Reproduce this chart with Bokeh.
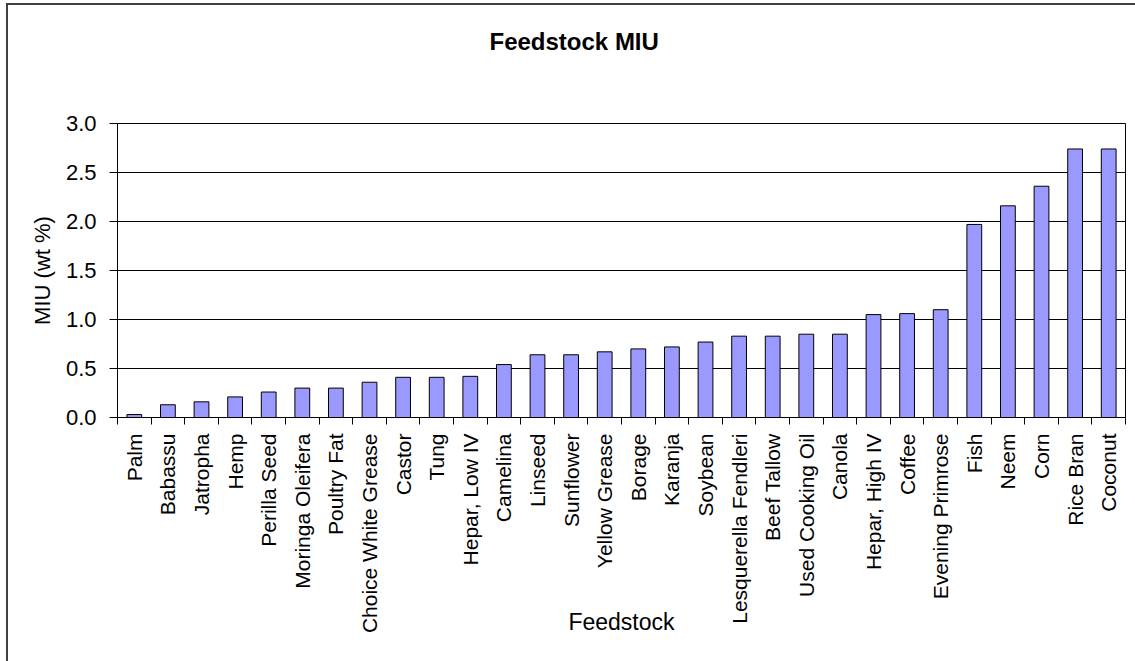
import math
from bokeh.plotting import figure
from bokeh.models import (ColumnDataSource, FixedTicker, CustomJSTickFormatter, Range1d,
                          NumeralTickFormatter)
from bokeh.embed import file_html
from bokeh.resources import INLINE

# ---- data ----
feedstocks = ["Palm", "Babassu", "Jatropha", "Hemp", "Perilla Seed", "Moringa Oleifera",
              "Poultry Fat", "Choice White Grease", "Castor", "Tung", "Hepar, Low IV",
              "Camelina", "Linseed", "Sunflower", "Yellow Grease", "Borage", "Karanja",
              "Soybean", "Lesquerella Fendleri", "Beef Tallow", "Used Cooking Oil", "Canola",
              "Hepar, High IV", "Coffee", "Evening Primrose", "Fish", "Neem", "Corn",
              "Rice Bran", "Coconut"]
miu = [0.03, 0.13, 0.16, 0.21, 0.26, 0.30, 0.30, 0.36, 0.41, 0.41, 0.42,
       0.54, 0.64, 0.64, 0.67, 0.70, 0.72, 0.77, 0.83, 0.83, 0.85, 0.85,
       1.05, 1.06, 1.10, 1.97, 2.16, 2.36, 2.74, 2.74]
y_ticks = [0.0, 0.5, 1.0, 1.5, 2.0, 2.5, 3.0]
title_text = "Feedstock MIU"
x_title = "Feedstock"
y_title = "MIU (wt %)"

n = len(feedstocks)
centers = [i + 0.5 for i in range(n)]
bounds = [float(i) for i in range(n + 1)]
src = ColumnDataSource(dict(x=centers, top=miu, name=feedstocks))

SHIFT = 44                      # canvas is pulled up by this many px
W, H = 1135, 661 + SHIFT - 2
FONT = "Liberation Sans"

p = figure(width=W, height=H, output_backend="svg", toolbar_location=None,
           x_range=Range1d(0, n), y_range=Range1d(0, 3.0),
           min_border_left=117, min_border_right=10, min_border_top=122 + SHIFT,
           min_border_bottom=242)
p.margin = (-SHIFT, 0, 0, 0)

p.vbar(x="x", top="top", width=0.44, bottom=0, source=src,
       fill_color="#9999FF", line_color="black", line_width=1)

# frame
p.outline_line_color = "black"
p.outline_line_width = 1
p.background_fill_color = "white"
p.border_fill_color = "white"

# grids
p.xgrid.visible = False
p.ygrid.grid_line_color = "black"
p.ygrid.grid_line_width = 1
p.ygrid.ticker = FixedTicker(ticks=y_ticks)

# y axis
ya = p.yaxis[0]
ya.ticker = FixedTicker(ticks=y_ticks)
ya.formatter = NumeralTickFormatter(format="0.0")
ya.major_label_text_font = FONT
ya.major_label_text_font_size = "22px"
ya.major_label_text_color = "black"
ya.major_tick_out = 8
ya.major_tick_in = 0
ya.minor_tick_out = 0
ya.minor_tick_in = 0
ya.major_label_standoff = 13
ya.axis_line_color = "black"
ya.major_tick_line_color = "black"
ya.axis_label = y_title
ya.axis_label_text_font = FONT
ya.axis_label_text_font_size = "22px"
ya.axis_label_text_font_style = "normal"
ya.axis_label_text_color = "black"
ya.axis_label_standoff = 8

# x axis: labels at centers, ticks at category boundaries
xa = p.xaxis[0]
xa.ticker = FixedTicker(ticks=centers, minor_ticks=bounds)
xa.formatter = CustomJSTickFormatter(args=dict(names=feedstocks),
                                     code="return names[Math.round(tick - 0.5)];")
xa.major_label_orientation = math.pi / 2
xa.major_label_text_font = FONT
xa.major_label_text_font_size = "21px"
xa.major_label_text_color = "black"
xa.major_tick_out = 0
xa.major_tick_in = 0
xa.minor_tick_out = 7
xa.minor_tick_in = 0
xa.minor_tick_line_color = "black"
xa.major_label_standoff = 9
xa.axis_line_color = "black"
xa.axis_label = x_title
xa.axis_label_text_font = FONT
xa.axis_label_text_font_size = "23px"
xa.axis_label_text_font_style = "normal"
xa.axis_label_text_color = "black"
xa.axis_label_standoff = -27

# chart title
p.title.text = title_text
p.title.text_font = FONT
p.title.text_font_size = "24px"
p.title.text_font_style = "bold"
p.title.text_color = "black"
p.title.align = "left"
p.title.offset = 372
p.title.standoff = 138

html = file_html(p, INLINE)
# outer chart-area border (only its left and top edges fall inside the window)
border = ('<div style="position:fixed;left:6px;top:3px;right:0;bottom:0;'
          'border-left:2px solid #404040;border-top:2px solid #404040;'
          'pointer-events:none;"></div>')
html = html.replace("</body>", border + "</body>")
open("out.html", "w").write(html)
